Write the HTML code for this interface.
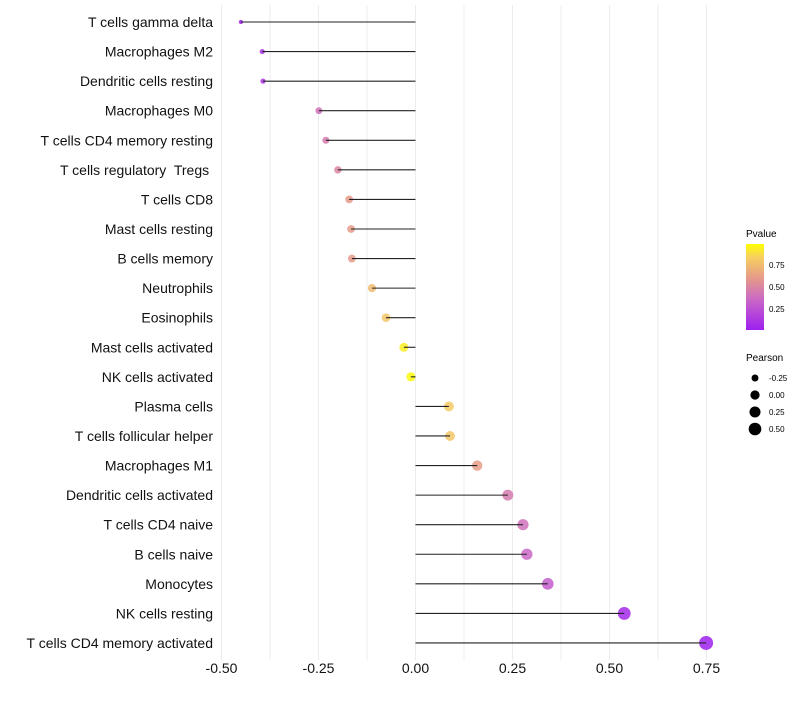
<!DOCTYPE html>
<html><head><meta charset="utf-8"><style>
body{margin:0;background:#fff;}
svg text{font-family:"Liberation Sans",sans-serif;}
#labels text{white-space:pre;}
</style></head><body>
<svg id="c" width="800" height="700">
<defs><linearGradient id="pg" x1="0" y1="1" x2="0" y2="0">
<stop offset="0" stop-color="#9E1FF0"/><stop offset="0.35" stop-color="#C967C6"/><stop offset="0.6" stop-color="#E59A8A"/><stop offset="0.85" stop-color="#F7D060"/><stop offset="1" stop-color="#FFFF00"/></linearGradient></defs>
<g id="grid"></g><g id="marks"></g><g id="labels" xml:space="preserve"></g><g id="xaxis"></g>
<g>
<text x="746" y="237" font-size="10">Pvalue</text>
<rect x="746" y="244" width="18" height="86" fill="url(#pg)"/>
<text x="769" y="268" font-size="8">0.75</text>
<text x="769" y="290" font-size="8">0.50</text>
<text x="769" y="312" font-size="8">0.25</text>
<text x="746" y="361" font-size="10">Pearson</text>
<g id="sizeleg"></g>
</g>
</svg>
<script>
const cats=["T cells gamma delta","Macrophages M2","Dendritic cells resting","Macrophages M0","T cells CD4 memory resting","T cells regulatory  Tregs ","T cells CD8","Mast cells resting","B cells memory","Neutrophils","Eosinophils","Mast cells activated","NK cells activated","Plasma cells","T cells follicular helper","Macrophages M1","Dendritic cells activated","T cells CD4 naive","B cells naive","Monocytes","NK cells resting","T cells CD4 memory activated"];
const pearson=[-0.45,-0.395,-0.393,-0.249,-0.231,-0.2,-0.171,-0.166,-0.164,-0.112,-0.076,-0.03,-0.012,0.086,0.089,0.159,0.238,0.277,0.287,0.341,0.538,0.749];
const pvals=[0.03,0.1,0.1,0.4,0.45,0.5,0.6,0.6,0.6,0.75,0.8,0.95,0.98,0.82,0.8,0.62,0.45,0.4,0.35,0.3,0.05,0.01];
const xTicks=[-0.5,-0.25,0,0.25,0.5,0.75];
const xTickLabels=["-0.50","-0.25","0.00","0.25","0.50","0.75"];
const sizeLegend=[-0.25,0,0.25,0.5];
const sizeLegendLabels=["-0.25","0.00","0.25","0.50"];
const NS="http://www.w3.org/2000/svg";
const X=v=>415.5+v*388;
const Y=i=>22+i*29.57;
const R=v=>Math.sqrt(Math.max(2,21.3+37*v));
const stops=[[0,[158,31,240]],[0.35,[201,103,198]],[0.6,[229,154,138]],[0.85,[247,208,96]],[1,[255,255,0]]];
function col(p){for(let k=1;k<stops.length;k++){if(p<=stops[k][0]){const a=stops[k-1],b=stops[k],t=(p-a[0])/(b[0]-a[0]);return "rgb("+a[1].map((c,j)=>Math.round(c+(b[1][j]-c)*t)).join(",")+")";}}return "rgb(255,255,0)";}
function mk(t,a,p){const e=document.createElementNS(NS,t);for(const k in a)e.setAttribute(k,a[k]);p.appendChild(e);return e;}
const grid=document.getElementById('grid'),marks=document.getElementById('marks'),labels=document.getElementById('labels'),xa=document.getElementById('xaxis');
for(let v=-0.5;v<=0.8;v+=0.125){const g=mk('line',{x1:X(v),x2:X(v),y1:5,y2:660,stroke:'#ececec','stroke-width':1},grid);

}
cats.forEach((c,i)=>{
const y=Y(i),v=pearson[i];
const pt=mk('circle',{cx:X(v),cy:y,r:R(v),fill:col(pvals[i]),'fill-opacity':0.85},marks);


const ln=mk('line',{x1:X(0),x2:X(v),y1:y,y2:y,stroke:'#222','stroke-width':1.1},marks);


const t=mk('text',{x:213,y:y+5,'font-size':14,'text-anchor':'end',fill:'#111'},labels);t.textContent=c;


});
xTicks.forEach((v,i)=>{const t=mk('text',{x:X(v),y:673,'font-size':14,'text-anchor':'middle',fill:'#111'},xa);t.textContent=xTickLabels[i];

});
const sl=document.getElementById('sizeleg');
sizeLegend.forEach((v,i)=>{const y=378+i*17;
const c=mk('circle',{cx:755,cy:y,r:R(v),fill:'#000'},sl);


const t=mk('text',{x:769,y:y+3,'font-size':8},sl);t.textContent=sizeLegendLabels[i];

});
</script>
</body></html>
